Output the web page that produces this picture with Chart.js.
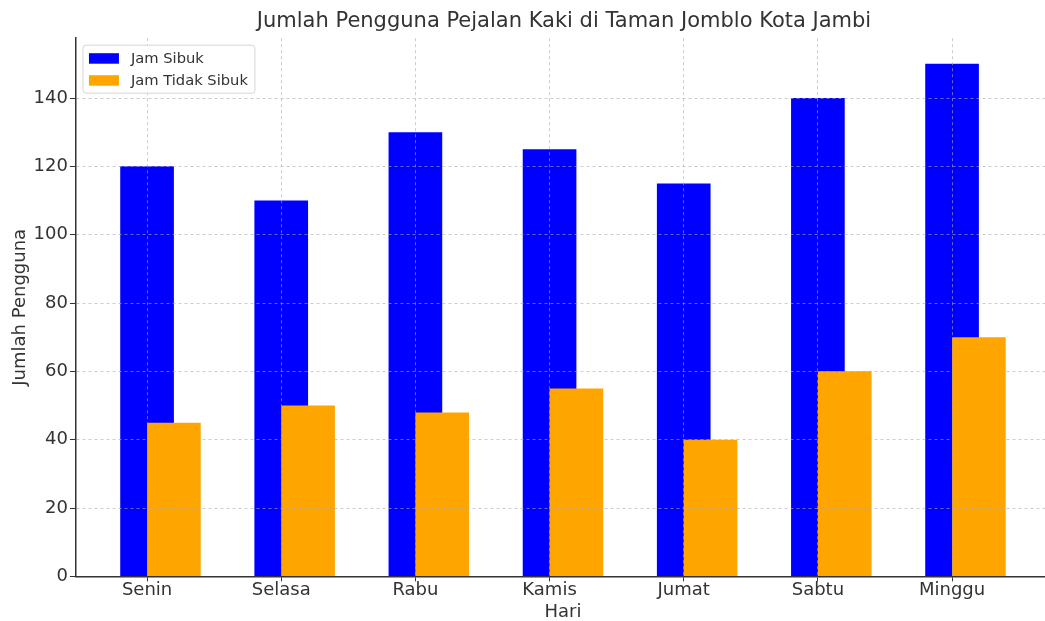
<!DOCTYPE html>
<html>
<head>
<meta charset="utf-8">
<script src="https://cdn.jsdelivr.net/npm/chart.js@4"></script>
<style>
  html, body { margin: 0; padding: 0; background: #fff; overflow: hidden; }
  #wrap { width: 1126px; height: 621px; position: relative; }
</style>
</head>
<body>
<div id="wrap"><canvas id="bars"></canvas></div>
<script>
const days = ['Senin', 'Selasa', 'Rabu', 'Kamis', 'Jumat', 'Sabtu', 'Minggu'];
const jamSibuk = [120, 110, 130, 125, 115, 140, 150];
const jamTidakSibuk = [45, 50, 48, 55, 40, 60, 70];
const yTicks = [0, 20, 40, 60, 80, 100, 120, 140];
const seriesNames = ['Jam Sibuk', 'Jam Tidak Sibuk'];

const FONT = "'DejaVu Sans', sans-serif";
const gridColor = 'rgba(170,170,170,0.6)';
const axisColor = '#333';

// legend drawn inside the plot, matplotlib style
const boxLegend = {
    id: 'boxLegend',
    afterDraw(chart) {
        const ctx = chart.ctx;
        const area = chart.chartArea;
        const x0 = area.left + 7, y0 = area.top + 7;
        ctx.save();
        ctx.font = '14.7px ' + FONT;
        var maxW = 0;
        chart.data.datasets.forEach(ds => { maxW = Math.max(maxW, ctx.measureText(ds.label).width); });
        const w = 48 + maxW + 7, h = 48;
        ctx.beginPath();
        ctx.roundRect(x0, y0, w, h, 3);
        ctx.fillStyle = 'rgba(255,255,255,0.85)';
        ctx.fill();
        ctx.strokeStyle = '#d6d6d6';
        ctx.lineWidth = 1;
        ctx.stroke();
        chart.data.datasets.forEach((ds, i) => {
            const cy = y0 + 13 + i * 22;
            ctx.fillStyle = ds.backgroundColor;
            ctx.fillRect(x0 + 6, cy - 5, 30, 10.5);
            ctx.fillStyle = '#333';
            ctx.textBaseline = 'middle';
            ctx.fillText(ds.label, x0 + 48, cy + 1);
        });
        ctx.restore();
    }
};

const ctx = document.getElementById('bars').getContext('2d');
new Chart(ctx, {
    type: 'bar',
    data: {
        datasets: [
            { label: seriesNames[0], backgroundColor: '#0000ff', order: 1, data: days.map((d, i) => ({ x: i, y: jamSibuk[i] })) },
            { label: seriesNames[1], backgroundColor: '#ffa500', order: 0, data: days.map((d, i) => ({ x: i + 0.2, y: jamTidakSibuk[i] })) }
        ]
    },
    options: {
        responsive: true,
        maintainAspectRatio: false,
        animation: false,
        grouped: false,
        categoryPercentage: 1,
        barPercentage: 2,
        layout: { padding: { left: 2, right: 0, top: 0, bottom: 0 } },
        plugins: {
            legend: { display: false },
            tooltip: { enabled: false },
            title: {
                display: true,
                text: 'Jumlah Pengguna Pejalan Kaki di Taman Jomblo Kota Jambi',
                color: '#333',
                font: { family: FONT, size: 21, weight: 'normal' },
                padding: { top: 9, bottom: 4 }
            }
        },
        scales: {
            x: {
                type: 'linear',
                offset: false,
                min: -0.53,
                max: 6.73,
                afterBuildTicks: axis => { axis.ticks = days.map((d, i) => ({ value: i })); },
                ticks: {
                    callback: v => days[v],
                    color: '#333',
                    font: { family: FONT, size: 18, lineHeight: 1 },
                    padding: 0,
                    maxRotation: 0
                },
                grid: { offset: false, color: gridColor, z: 1, tickLength: 5, tickColor: axisColor },
                border: { color: axisColor, width: 1.5, dash: [3, 3], z: 2 },
                title: { display: true, text: 'Hari', color: '#333', font: { family: FONT, size: 18, lineHeight: 1 }, padding: { top: 3.6, bottom: 0 } }
            },
            y: {
                min: 0,
                max: 157.5,
                afterBuildTicks: axis => { axis.ticks = yTicks.map(v => ({ value: v })); },
                ticks: { color: '#333', font: { family: FONT, size: 18 }, padding: 2 },
                grid: { color: gridColor, z: 1, tickLength: 6, tickColor: axisColor },
                border: { color: axisColor, width: 1.5, dash: [3, 3], z: 2 },
                title: { display: true, text: 'Jumlah Pengguna', color: '#333', font: { family: FONT, size: 18 }, padding: { top: 8, bottom: 0 } }
            },
            // empty right-hand axis: keeps the plot wide without shifting the title
            yRight: {
                position: 'right',
                display: true,
                ticks: { display: false },
                grid: { display: false },
                border: { display: false },
                afterFit: axis => { axis.width = 76; }
            }
        }
    },
    plugins: [boxLegend]
});
</script>
</body>
</html>
